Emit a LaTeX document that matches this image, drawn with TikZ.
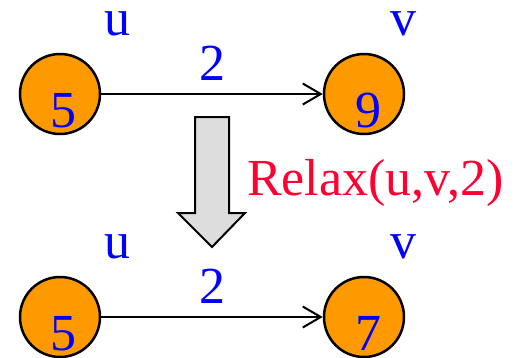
\documentclass[tikz,border=0pt]{standalone}
\usepackage{fontspec}
\setmainfont{Liberation Serif}
\newfontfamily\tmsfont{Liberation Serif}
\usetikzlibrary{arrows.meta}
\definecolor{vorange}{HTML}{FF9900}
\definecolor{vblue}{HTML}{0000FF}
\definecolor{vred}{HTML}{FF0033}
\definecolor{vgray}{HTML}{DDDDDD}
\tikzset{
  vertex/.style={circle,draw=black,line width=2.5pt,fill=vorange,minimum size=80pt,inner sep=0pt},
  lbl/.style={inner sep=0pt,anchor=base,text=vblue,font=\tmsfont\fontsize{52}{60}\selectfont,text height=24pt,text depth=0pt},
  num/.style={lbl,text height=35pt},
  edge/.style={line width=2pt,-{Straight Barb[length=18pt,width=21pt,line width=2pt]}},
}
\begin{document}
\begin{tikzpicture}[x=1pt,y=-1pt]
\useasboundingbox (0,0) rectangle (515,357);
% top graph
\node[vertex] (u1) at (60,94) {};
\node[vertex] (v1) at (364,94) {};
\node[num] (n5a) at (63.5,127) {5};
\node[num] (n9) at (368,127) {9};
\node[lbl] (ua) at (117,35) {u};
\node[lbl] (va) at (403,35) {v};
\node[num] (wa) at (212,80) {2};
\draw[edge] (u1) -- (v1);
% block arrow
\draw[line width=2pt,fill=vgray,line join=miter]
  (195,117) -- (229,117) -- (229,213) -- (245,213) -- (212,247) -- (178,213) -- (195,213) -- cycle;
\node[inner sep=0pt,anchor=base west,text=vred,font=\tmsfont\fontsize{52}{60}\selectfont] (relax) at (247,195) {Relax(u,v,2)};
% bottom graph
\node[vertex] (u2) at (60,317) {};
\node[vertex] (v2) at (364,317) {};
\node[num] (n5b) at (63.5,350) {5};
\node[num] (n7) at (368,350) {7};
\node[lbl] (ub) at (117,258) {u};
\node[lbl] (vb) at (403,258) {v};
\node[num] (wb) at (212,303) {2};
\draw[edge] (u2) -- (v2);
\end{tikzpicture}
\end{document}
